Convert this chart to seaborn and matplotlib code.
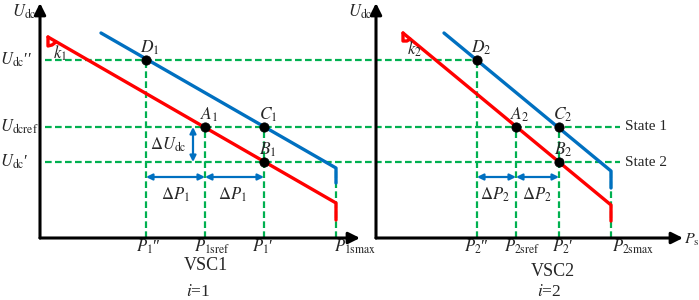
#!/usr/bin/env python3
import matplotlib.pyplot as plt
import seaborn as sns

sns.set_theme(style='white')
plt.rcParams['font.family'] = ['Liberation Serif', 'DejaVu Serif']
plt.rcParams['mathtext.fontset'] = 'stix'

RED = '#ff0000'
BLUE = '#0070c0'
GREEN = '#00b050'

# droop levels of the dc voltage (shared by both converters)
u_levels = [178, 111, 76]
u_level_text = [r'$U_{\mathrm{dc}}$′′', r'$U_{\mathrm{dcref}}$', r'$U_{\mathrm{dc}}$′']
u_level_ends = [437, 580, 580]
state_text = ['State 1', 'State 2']

# VSC1
p1_ticks = [106, 165, 224, 296]
p1_tick_x = [108, 172, 223, 315]
p1_tick_text = [r'$P_1$″', r'$P_{\mathrm{1sref}}$', r'$P_1$′', r'$P_{\mathrm{1smax}}$']
p1_tick_top = [178, 111, 111, 70]
red1_p = [8, 296, 296]
red1_u = [201, 35, 18]
blue1_p = [61, 296, 296]
blue1_u = [205, 70, 55]
pts1_p = [106, 165, 224, 224]
pts1_u = [178, 111, 111, 76]
pts1_name = [r'$D_1$', r'$A_1$', r'$C_1$', r'$B_1$']
flag1_p = [8, 8, 12, 16]
flag1_u = [201, 192, 193, 196]

# VSC2
p2_ticks = [101, 140, 183, 235]
p2_tick_x = [100, 146, 187, 257]
p2_tick_text = [r'$P_2$″', r'$P_{\mathrm{2sref}}$', r'$P_2$′', r'$P_{\mathrm{2smax}}$']
p2_tick_top = [178, 111, 111, 67]
red2_p = [27, 235, 235]
red2_u = [205, 33, 17]
blue2_p = [68, 235, 235]
blue2_u = [205, 67, 50]
pts2_p = [101, 140, 183, 183]
pts2_u = [178, 111, 111, 76]
pts2_name = [r'$D_2$', r'$A_2$', r'$C_2$', r'$B_2$']
flag2_p = [27, 27, 31, 34]
flag2_u = [205, 197, 197, 199]

fig = plt.figure(figsize=(6.99, 3.0), dpi=100)
ax1 = fig.add_axes([40 / 699, 62 / 300, 320 / 699, 235 / 300])
ax2 = fig.add_axes([376 / 699, 62 / 300, 307 / 699, 235 / 300])
ax1.set(xlim=(0, 320), ylim=(0, 235))
ax2.set(xlim=(0, 307), ylim=(0, 235))

DASH = (0, (3, 1.5))


def axis_arrows(ax, xmax):
    kw = dict(arrowstyle='-|>', color='black', lw=2.2, mutation_scale=17,
              shrinkA=0, shrinkB=0)
    ax.annotate('', xy=(xmax, 0), xytext=(0, 0), arrowprops=kw,
                annotation_clip=False, zorder=6)
    ax.annotate('', xy=(0, 235), xytext=(0, 0), arrowprops=kw,
                annotation_clip=False, zorder=6)
    ax.text(-3, 226, r'$U_{\mathrm{dc}}$', ha='right', va='center', fontsize=12)


def dbl_arrow(ax, a, b):
    ax.annotate('', xy=b, xytext=a, annotation_clip=False, zorder=4,
                arrowprops=dict(arrowstyle='<|-|>', color=BLUE, lw=1.6,
                                mutation_scale=9, shrinkA=0, shrinkB=0))


def panel(ax, ticks, tick_top, tick_x, tick_text, red_p, red_u, blue_p, blue_u,
          pts_p, pts_u, pts_name, flag_p, flag_u):
    dash = dict(color=GREEN, lw=1.6, ls=DASH, clip_on=False, zorder=1)
    for p, top in zip(ticks, tick_top):
        ax.plot([p, p], [0, top], **dash)
    for x, t in zip(tick_x, tick_text):
        ax.text(x, -9, t, ha='center', va='center', fontsize=12)
    sns.lineplot(x=red_p, y=red_u, sort=False, estimator=None, color=RED,
                 lw=2.4, ax=ax, legend=False, zorder=3)
    sns.lineplot(x=flag_p, y=flag_u, sort=False, estimator=None, color=RED,
                 lw=2.4, ax=ax, legend=False, zorder=3)
    sns.lineplot(x=blue_p, y=blue_u, sort=False, estimator=None, color=BLUE,
                 lw=2.4, ax=ax, legend=False, zorder=3)
    sns.scatterplot(x=pts_p, y=pts_u, color='black', s=45, ax=ax,
                    legend=False, zorder=5, edgecolor='black')
    for p, u, name in zip(pts_p, pts_u, pts_name):
        ax.text(p + 4, u + 12, name, ha='center', va='center', fontsize=12.5)
    dbl_arrow(ax, (ticks[0], 61), (ticks[1], 61))
    dbl_arrow(ax, (ticks[1], 61), (ticks[2], 61))
    for a in ax.lines:
        a.set_clip_on(False)
    ax.axis('off')


# horizontal voltage levels drawn across both panels
for u, end, txt in zip(u_levels, u_level_ends, u_level_text):
    ax1.plot([5, end], [u, u], color=GREEN, lw=1.6, ls=DASH,
             clip_on=False, zorder=1)
    ax1.text(-40, u, txt, ha='left', va='center', fontsize=12)

panel(ax1, p1_ticks, p1_tick_top, p1_tick_x, p1_tick_text, red1_p, red1_u,
      blue1_p, blue1_u, pts1_p, pts1_u, pts1_name, flag1_p, flag1_u)
panel(ax2, p2_ticks, p2_tick_top, p2_tick_x, p2_tick_text, red2_p, red2_u,
      blue2_p, blue2_u, pts2_p, pts2_u, pts2_name, flag2_p, flag2_u)
axis_arrows(ax1, 320)
axis_arrows(ax2, 307)

# delta U_dc arrow and delta P labels
dbl_arrow(ax1, (153, 111), (153, 76))
ax1.text(128, 93, r'$\Delta U_{\mathrm{dc}}$', ha='center', va='center', fontsize=12)
ax1.text(135, 43, r'$\Delta P_1$', ha='center', va='center', fontsize=12)
ax1.text(192, 43, r'$\Delta P_1$', ha='center', va='center', fontsize=12)
ax2.text(119, 43, r'$\Delta P_2$', ha='center', va='center', fontsize=12)
ax2.text(161, 43, r'$\Delta P_2$', ha='center', va='center', fontsize=12)
ax1.text(20, 185, r'$k_1$', ha='center', va='center', fontsize=12)
ax2.text(38, 189, r'$k_2$', ha='center', va='center', fontsize=12)
ax2.text(308, -2, r'$P_{\mathrm{s}}$', ha='left', va='center', fontsize=11.5)

for u, txt in zip(u_levels[1:], state_text):
    ax2.text(249, u, txt, ha='left', va='center', fontsize=11)

ax1.text(166, -27, 'VSC1', ha='center', va='center', fontsize=13)
ax1.text(158, -54, r'$i$=1', ha='center', va='center', fontsize=12.5)
ax2.text(177, -34, 'VSC2', ha='center', va='center', fontsize=13)
ax2.text(173, -54, r'$i$=2', ha='center', va='center', fontsize=12.5)

fig.savefig('out.png', dpi=100)
